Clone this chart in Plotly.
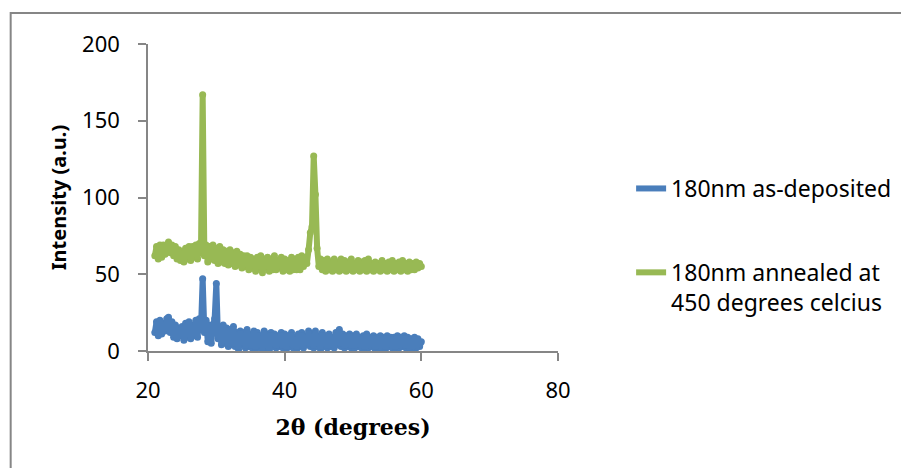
import plotly.graph_objects as go

# 2-theta scan grid: 21.0 .. 60.0 deg, step 0.25
start_deg = 21.0
step_deg = 0.25

as_deposited = [
    12, 19, 10, 20, 11, 18, 13, 21,
    22, 12, 19, 9, 17, 8, 15, 10,
    16, 7, 18, 9, 19, 8, 17, 10,
    20, 9, 21, 14,
    47,
    12, 20, 6, 17, 5, 16, 21,
    44,
    8, 16, 4, 17, 5, 15, 3,
    14, 4, 16, 3, 12, 1, 13, 4,
    12, 2, 14, 3, 11, 2, 13, 1,
    12, 3, 10, 0, 13, 2, 11, 0,
    12, 3, 11, 2, 10, 3, 12, 2,
    11, 1, 10, 3, 12, 2, 9, 1,
    11, 3, 12, 2, 10, 4, 13, 3,
    11, 2, 13, 3, 10, 1, 12, 3,
    10, 2, 11, 3, 9, 2, 12, 4,
    14, 3, 11, 2, 10, 3, 11, 2,
    10, 2, 11, 3, 9, 2, 10, 1,
    11, 2, 9, 3, 10, 1, 9, 2,
    10, 2, 9, 1, 10, 3, 9, 2,
    9, 1, 10, 2, 9, 3, 10, 2,
    9, 2, 8, 1, 9, 2, 8, 3,
    6,
]

annealed = [
    62, 68, 60, 69, 61, 69, 63, 67,
    71, 64, 69, 62, 68, 60, 66, 59,
    65, 58, 67, 60, 68, 59, 68, 61,
    69, 60, 70, 64,
    167,
    62, 69, 58, 68, 60, 69, 59,
    67, 57, 68, 58, 66, 57, 65, 56,
    66, 57, 64, 55, 65, 56, 63, 54,
    62, 55, 62, 53, 61, 54, 60, 52,
    61, 54, 62, 51, 60, 54, 61, 52,
    60, 53, 62, 53, 59, 54, 61, 52,
    60, 53, 59, 52, 61, 53, 60, 53,
    61, 53, 62, 55, 60, 57,
    66, 77, 81, 127, 102, 67, 55,
    60, 53, 59, 52, 60, 53, 58,
    52, 60, 53, 58, 52, 60, 53, 59,
    52, 58, 53, 60, 52, 57, 53, 59,
    52, 58, 53, 59, 52, 60, 53, 57,
    52, 58, 53, 57, 52, 59, 53, 57,
    52, 58, 53, 59, 52, 57, 53, 58,
    52, 59, 53, 57, 52, 58, 53, 57,
    53, 58, 54, 57, 55,
]

series_names = ["180nm as-deposited", "180nm annealed at<br>450 degrees celcius"]
series_colors = ["#4A7EBB", "#98B954"]
x_ticks = [20, 40, 60, 80]
y_ticks = [0, 50, 100, 150, 200]

def grid(n):
    return [start_deg + step_deg * i for i in range(n)]

fig = go.Figure()
for i, (vals, name, col) in enumerate(zip([as_deposited, annealed], series_names, series_colors)):
    xs = grid(len(vals))
    # round joints (as in the original): round dots at every vertex, no legend entry
    fig.add_trace(go.Scatter(x=xs, y=vals, mode="markers", legendgroup=f"g{i}",
                             showlegend=False, hoverinfo="skip",
                             marker=dict(color=col, size=7, line=dict(width=0))))
    fig.add_trace(go.Scatter(x=xs, y=vals, mode="lines", name=name, legendgroup=f"g{i}",
                             line=dict(color=col, width=6, simplify=False)))

axis_color = "#868686"
tick_font = dict(family="Noto Sans", size=22, color="#000000")

# page body has an 8px margin: figure origin sits at (8, 8) in the window
L, T = 140, 36
fig.update_layout(
    width=901, height=460,
    margin=dict(l=L, r=901 - L - 415, t=T, b=460 - T - 307),
    paper_bgcolor="white", plot_bgcolor="white",
    font=tick_font,
    showlegend=True,
    legend=dict(
        x=(637 - 148) / 415, y=(351 - 167) / 307, xanchor="left", yanchor="top",
        font=dict(family="Noto Sans", size=23, color="#000000"),
        traceorder="grouped", tracegroupgap=51, valign="top",
        bgcolor="rgba(0,0,0,0)",
    ),
    xaxis=dict(
        range=[20, 80], tickvals=x_ticks, ticks="outside", ticklen=8,
        tickcolor=axis_color, tickwidth=1.5, showline=True, linecolor=axis_color,
        linewidth=1.5, showgrid=False, zeroline=False, tickfont=tick_font,
        ticklabelstandoff=11,
        title=dict(text="<b>2θ (degrees)</b>", standoff=16,
                   font=dict(family="DejaVu Serif", size=22, color="#000000")),
    ),
    yaxis=dict(
        range=[0, 200], tickvals=y_ticks, ticks="outside", ticklen=8,
        tickcolor=axis_color, tickwidth=1.5, showline=True, linecolor=axis_color,
        linewidth=1.5, showgrid=False, zeroline=False, tickfont=tick_font,
        ticklabelstandoff=14,
        title=dict(text="<b>Intensity (a.u.)</b>", standoff=10,
                   font=dict(family="Noto Sans", size=20, color="#000000")),
    ),
    shapes=[dict(type="rect", xref="paper", yref="paper",
                 x0=(9 - 148) / 415, x1=(1000 - 148) / 415,
                 y0=(351 - 600) / 307, y1=(351 - 13) / 307,
                 line=dict(color=axis_color, width=2), fillcolor="rgba(0,0,0,0)",
                 layer="below")],
)

fig.write_html("out.html")
